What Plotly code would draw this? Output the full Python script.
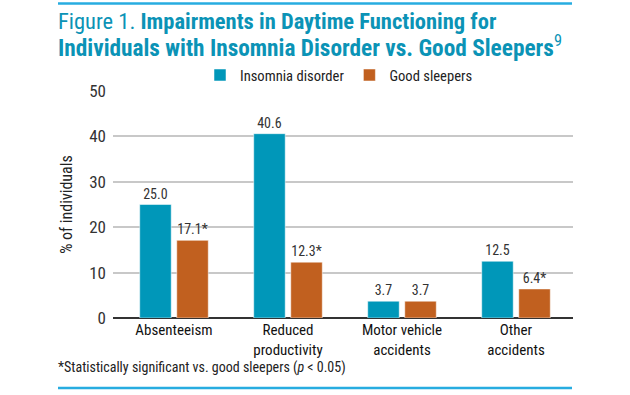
import plotly.graph_objects as go

categories = ["Absenteeism", "Reduced<br>productivity", "Motor vehicle<br>accidents", "Other<br>accidents"]
insomnia = [25.0, 40.6, 3.7, 12.5]
good = [17.1, 12.3, 3.7, 6.4]
insomnia_labels = ["25.0", "40.6", "3.7", "12.5"]
good_labels = ["17.1*", "12.3*", "3.7", "6.4*"]
y_ticks = [0, 10, 20, 30, 40, 50]

FONT = "Liberation Sans Narrow, Roboto Condensed, DejaVu Sans Condensed, Arial Narrow, sans-serif"
TEAL = "#0097b9"
ORANGE = "#c1601f"
TITLE = "#0b93b6"
RULE = "#27ace0"

L, R, T, B = 113, 57, 91, 77
W, H = 630, 395
ph = H - T - B
pw = W - L - R

def px_x(x):
    return (x - L) / pw

def px_y(y):
    return (H - B - y) / ph

xs = list(range(len(categories)))

fig = go.Figure()
fig.add_trace(go.Bar(x=xs, y=insomnia, name="Insomnia disorder", marker=dict(color=TEAL, line=dict(color="white", width=0.5)),
                     text=insomnia_labels, textposition="outside", cliponaxis=False,
                     textfont=dict(family=FONT, size=14, color="#333333")))
fig.add_trace(go.Bar(x=xs, y=good, name="Good sleepers", marker=dict(color=ORANGE, line=dict(color="white", width=0.5)),
                     text=good_labels, textposition="outside", cliponaxis=False,
                     textfont=dict(family=FONT, size=14, color="#333333")))

fig.update_layout(
    width=W, height=H,
    margin=dict(l=L, r=R, t=T, b=B, autoexpand=False),
    paper_bgcolor="white", plot_bgcolor="white",
    barmode="group", bargap=0.35, bargroupgap=0.15,
    font=dict(family=FONT, color="#222222", size=15),
    showlegend=True,
    legend=dict(orientation="h", x=px_x(200), y=px_y(75), xanchor="left", yanchor="middle",
                font=dict(family=FONT, size=14.6, color="#222222"), itemwidth=30, traceorder="normal"),
    xaxis=dict(tickmode="array", tickvals=xs, ticktext=categories, range=[-0.535, 3.5],
               showgrid=False, zeroline=False, showline=False, ticks="",
               tickfont=dict(family=FONT, size=15, color="#111111"), ticklabelstandoff=1),
    yaxis=dict(range=[0, 50], tickvals=y_ticks, showgrid=True, gridcolor="#c8c8c8", gridwidth=1.5,
               zeroline=True, zerolinecolor="#333333", zerolinewidth=1.5, showline=False, ticks="",
               tickfont=dict(family=FONT, size=17, color="#333333"), ticklabelstandoff=6,
               title=dict(text="% of individuals", font=dict(family=FONT, size=16, color="#222222"), standoff=12)),
)

fig.add_annotation(xref="paper", yref="paper", x=px_x(56), y=px_y(21), xanchor="left", yanchor="middle",
                   text="Figure 1. <b>Impairments in Daytime Functioning for</b>", showarrow=False,
                   font=dict(family=FONT, size=22.5, color=TITLE))
fig.add_annotation(xref="paper", yref="paper", x=px_x(56), y=px_y(46), xanchor="left", yanchor="middle",
                   text="<b>Individuals with Insomnia Disorder vs. Good Sleepers</b><sup>9</sup>", showarrow=False,
                   font=dict(family=FONT, size=23.3, color=TITLE))
fig.add_annotation(xref="paper", yref="paper", x=px_x(56), y=px_y(367), xanchor="left", yanchor="middle",
                   text="*Statistically significant vs. good sleepers (<i>p</i> < 0.05)", showarrow=False,
                   font=dict(family=FONT, size=14, color="#222222"))

fig.add_shape(type="line", xref="paper", yref="paper", x0=px_x(58), x1=px_x(572), y0=px_y(3.5), y1=px_y(3.5),
              line=dict(color=RULE, width=2.5))
fig.add_shape(type="line", xref="paper", yref="paper", x0=px_x(58), x1=px_x(572), y0=px_y(388), y1=px_y(388),
              line=dict(color=RULE, width=2.5))

fig.write_html("out.html", config={"displayModeBar": False},
               post_script="document.body.style.margin='0';document.body.style.overflow='hidden';")
